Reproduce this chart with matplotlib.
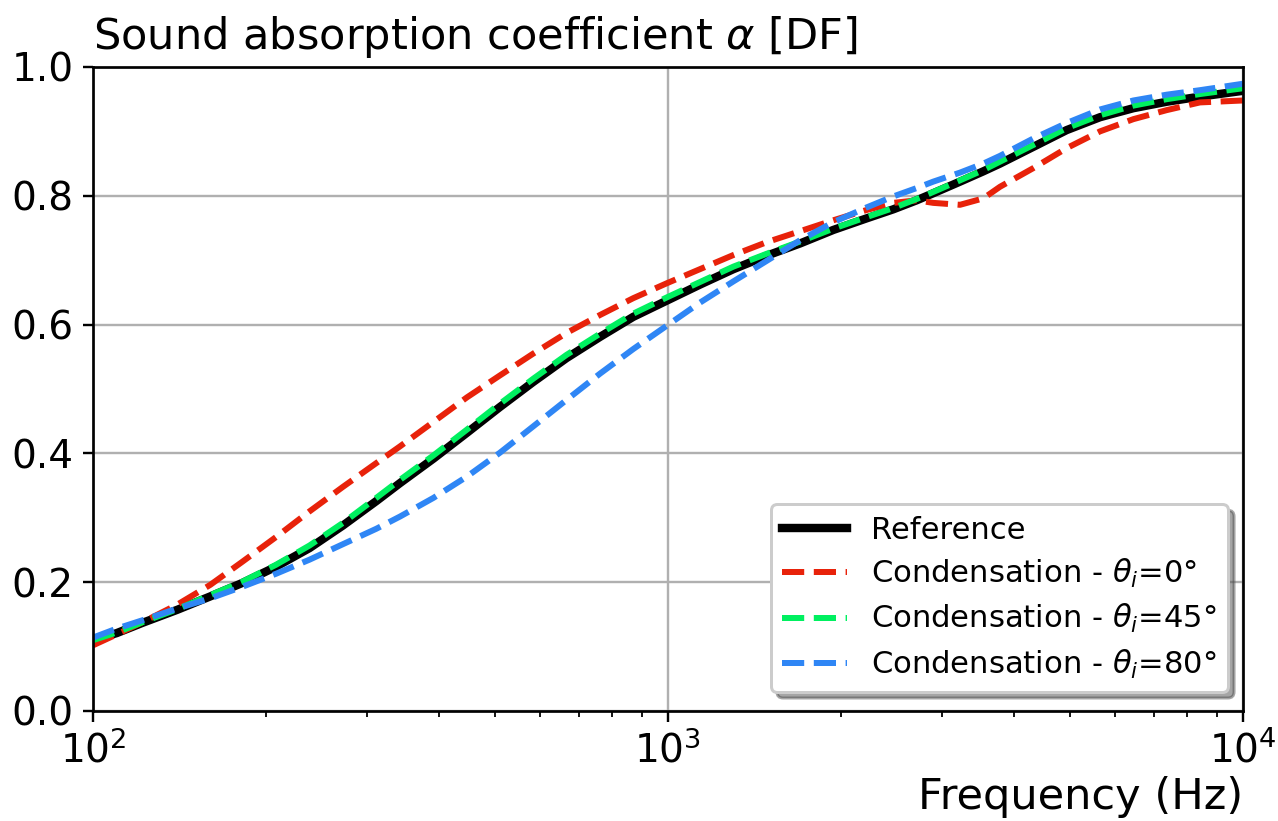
import numpy as np
import matplotlib
matplotlib.use('Agg')
import matplotlib.pyplot as plt

freq = [100, 110, 122, 140, 160, 182, 208, 238, 272, 311, 342, 391, 447, 510,
        583, 666, 762, 870, 994, 1136, 1299, 1485, 1697, 1939, 2216, 2465, 2707,
        2893, 3220, 3535, 3779, 4319, 4935, 5640, 6446, 7366, 8418, 10000]

# absorption coefficient, diffuse field
alpha_ref = [0.110, 0.121, 0.137, 0.157, 0.178, 0.199, 0.224, 0.253, 0.288, 0.326,
             0.354, 0.392, 0.432, 0.472, 0.511, 0.548, 0.581, 0.612, 0.637, 0.662,
             0.686, 0.707, 0.726, 0.747, 0.765, 0.779, 0.793, 0.804, 0.822, 0.838,
             0.850, 0.876, 0.902, 0.922, 0.936, 0.946, 0.954, 0.963]
alpha_0 = [0.102, 0.119, 0.138, 0.165, 0.196, 0.232, 0.270, 0.310, 0.348, 0.385,
           0.411, 0.449, 0.487, 0.521, 0.555, 0.587, 0.615, 0.641, 0.664, 0.686,
           0.708, 0.728, 0.745, 0.762, 0.778, 0.789, 0.793, 0.789, 0.786, 0.796,
           0.814, 0.843, 0.874, 0.900, 0.919, 0.933, 0.945, 0.948]
alpha_45 = [0.110, 0.122, 0.138, 0.158, 0.180, 0.201, 0.227, 0.257, 0.292, 0.331,
            0.359, 0.397, 0.437, 0.477, 0.516, 0.553, 0.586, 0.617, 0.642, 0.666,
            0.690, 0.710, 0.729, 0.749, 0.767, 0.781, 0.795, 0.806, 0.824, 0.840,
            0.853, 0.879, 0.905, 0.925, 0.940, 0.950, 0.958, 0.967]
alpha_80 = [0.114, 0.128, 0.141, 0.159, 0.175, 0.193, 0.213, 0.235, 0.259, 0.283,
            0.302, 0.331, 0.364, 0.401, 0.442, 0.483, 0.524, 0.562, 0.598, 0.634,
            0.667, 0.699, 0.731, 0.759, 0.782, 0.799, 0.812, 0.822, 0.836, 0.850,
            0.862, 0.889, 0.913, 0.934, 0.948, 0.957, 0.964, 0.974]

labels = ['Reference',
          r'Condensation - $\theta_i$=0°',
          r'Condensation - $\theta_i$=45°',
          r'Condensation - $\theta_i$=80°']

fig = plt.figure(figsize=(1278 / 216, 821 / 216), dpi=216)
ax = fig.add_axes([0.0728, 0.134, 0.8998, 0.7844])

ax.semilogx(freq, alpha_ref, color='k', lw=2.8, label=labels[0])
ax.semilogx(freq, alpha_0, '--', color='#e8220a', lw=2.0, label=labels[1])
ax.semilogx(freq, alpha_45, '--', color='#00f060', lw=2.0, label=labels[2])
ax.semilogx(freq, alpha_80, '--', color='#2f86f5', lw=2.0, label=labels[3])

ax.set_xlim(100, 10000)
ax.set_ylim(0, 1)
ax.set_yticks(np.arange(0, 1.01, 0.2))
ax.tick_params(axis='both', which='major', labelsize=13, pad=3)
ax.grid(True, which='major', color='#b0b0b0', lw=0.8)
ax.set_axisbelow(True)
for sp in ax.spines.values():
    sp.set_linewidth(0.9)

ax.set_title(r'Sound absorption coefficient $\alpha$ [DF]', loc='left', fontsize=14.4)
ax.set_xlabel('Frequency (Hz)', loc='right', fontsize=14.4, labelpad=2)

ax.legend(loc='lower right', bbox_to_anchor=(0.987, 0.0295), borderaxespad=0,
          shadow=True, framealpha=1, fontsize=10.2, handlelength=2.1,
          labelspacing=0.4, borderpad=0.37)

fig.savefig('out.png', dpi=216)
